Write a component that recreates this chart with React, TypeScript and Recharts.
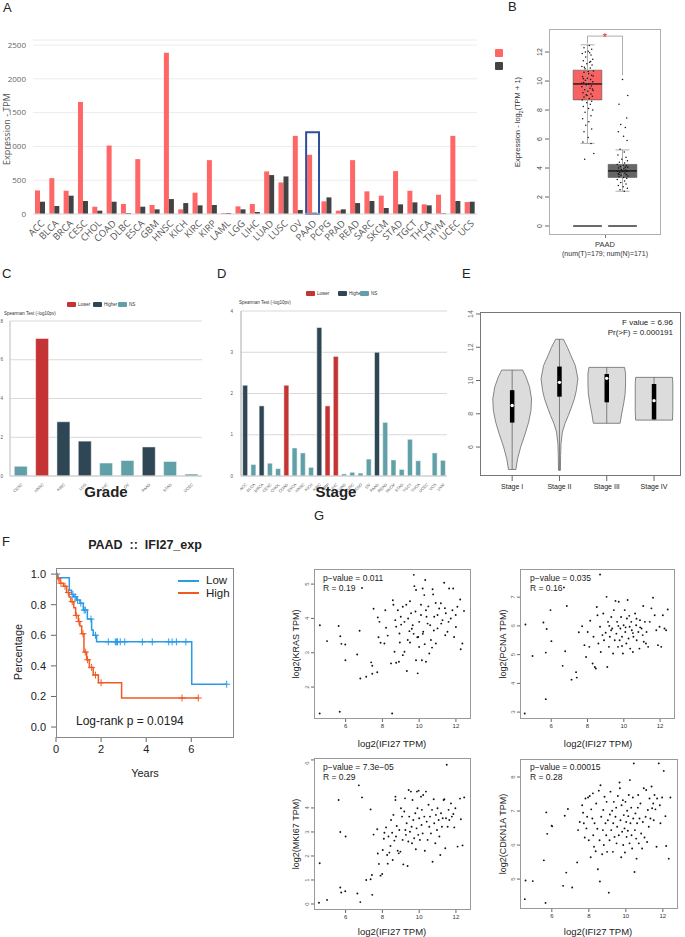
import React from "react"
import {
  BarChart, Bar, XAxis, YAxis, CartesianGrid, Cell,
  ScatterChart, Scatter, ComposedChart, Line, ReferenceArea, ReferenceLine,
} from "recharts"

const SANS = "'Liberation Sans', Arial, sans-serif"
const OPEN = "'Open Sans', sans-serif"

// ---- A: pan-cancer expression (median TPM), tumour vs normal
const CANCERS = ["ACC", "BLCA", "BRCA", "CESC", "CHOL", "COAD", "DLBC", "ESCA", "GBM", "HNSC", "KICH", "KIRC", "KIRP", "LAML", "LGG", "LIHC", "LUAD", "LUSC", "OV", "PAAD", "PCPG", "PRAD", "READ", "SARC", "SKCM", "STAD", "TGCT", "THCA", "THYM", "UCEC", "UCS"]
const TUMOR_TPM = [349, 531, 344, 1658, 108, 1013, 148, 812, 133, 2386, 69, 315, 797, 15, 113, 148, 630, 467, 1156, 876, 187, 49, 797, 335, 271, 635, 344, 143, 285, 1156, 177]
const NORMAL_TPM = [182, 118, 271, 192, 49, 182, 15, 108, 69, 221, 162, 128, 133, 15, 69, 30, 576, 556, 59, 20, 246, 69, 162, 192, 89, 143, 172, 128, 10, 192, 182]
const HIGHLIGHT = "PAAD"
const HIGHLIGHT_TOP = 1210

// ---- B: PAAD box plot, log2(TPM+1)
const BOX_GROUPS = ["Tumor", "Normal"]
const BOX_STATS = [
  { lo: 5.7, q1: 8.7, med: 9.8, q3: 10.75, hi: 12.5 },
  { lo: 2.4, q1: 3.35, med: 3.8, q3: 4.25, hi: 5.25 },
]
const TUMOR_JITTER = [[0.05, 12.45], [-0.1, 12.3], [0.12, 12.2], [0.02, 12.05], [-0.15, 11.9], [0.1, 11.8], [-0.05, 11.65], [0.15, 11.5], [-0.12, 11.4], [0.06, 11.3], [-0.02, 11.2], [0.13, 11.1], [-0.16, 11.0], [0.08, 10.9], [-0.07, 10.85], [0.17, 10.7], [-0.1, 10.6], [0.03, 10.5], [0.12, 10.4], [-0.14, 10.3], [0.0, 10.2], [0.09, 10.1], [-0.06, 10.05], [0.15, 9.95], [-0.11, 9.9], [0.04, 9.8], [-0.03, 9.75], [0.11, 9.65], [-0.16, 9.6], [0.07, 9.5], [-0.08, 9.4], [0.16, 9.35], [0.01, 9.3], [-0.13, 9.2], [0.1, 9.1], [-0.04, 9.05], [0.14, 8.95], [-0.1, 8.9], [0.05, 8.8], [-0.15, 8.7], [0.12, 8.6], [-0.02, 8.5], [0.08, 8.4], [-0.12, 8.25], [0.03, 8.1], [0.15, 8.0], [-0.07, 7.85], [0.1, 7.6], [-0.14, 7.4], [0.04, 7.2], [-0.05, 6.95], [0.12, 6.7], [-0.1, 6.5], [0.02, 6.1], [-0.13, 5.8], [0.1, 5.7], [0.18, 5.0], [-0.08, 4.6], [0.06, 11.95], [-0.09, 10.95], [0.02, 10.65], [-0.12, 10.15], [0.14, 9.45], [-0.01, 9.0], [0.09, 11.35], [-0.06, 12.0], [0.16, 10.35], [-0.17, 9.85]]
const NORMAL_JITTER = [[0.0, 10.1], [0.15, 9.0], [-0.1, 8.4], [0.12, 7.45], [-0.05, 7.0], [0.08, 6.8], [-0.12, 6.5], [0.03, 6.2], [0.13, 5.9], [-0.07, 5.3], [0.05, 5.1], [-0.13, 4.9], [0.1, 4.75], [-0.02, 4.6], [0.14, 4.5], [-0.09, 4.4], [0.06, 4.35], [-0.15, 4.25], [0.02, 4.2], [0.11, 4.15], [-0.06, 4.1], [0.15, 4.05], [-0.11, 4.0], [0.04, 3.95], [-0.03, 3.9], [0.09, 3.85], [-0.14, 3.8], [0.13, 3.78], [0.0, 3.75], [-0.08, 3.7], [0.07, 3.65], [-0.12, 3.6], [0.11, 3.55], [-0.04, 3.5], [0.15, 3.45], [-0.1, 3.4], [0.03, 3.35], [0.12, 3.3], [-0.15, 3.2], [0.06, 3.1], [-0.05, 3.0], [0.1, 2.9], [-0.12, 2.8], [0.02, 2.7], [0.14, 2.6], [-0.07, 2.5], [0.05, 2.4], [-0.02, 3.85], [0.08, 4.05], [-0.1, 3.55]]

// ---- C / D: Spearman tests, -log10 p
const TREND_COLOR: Record<string, string> = { Lower: "#c43434", Higher: "#2f4655", NS: "#61a0a9" }
const GRADE_CANCERS = ["CESC", "HNSC", "KIRC", "LGG", "LIHC", "OV", "PAAD", "STAD", "UCEC"]
const GRADE_LOGP = [0.5, 7.1, 2.8, 1.8, 0.67, 0.8, 1.5, 0.75, 0.1]
const GRADE_TREND = ["NS", "Lower", "Higher", "Higher", "NS", "NS", "Higher", "NS", "NS"]
const STAGE_CANCERS = ["ACC", "BLCA", "BRCA", "CESC", "CHOL", "COAD", "ESCA", "HNSC", "KICH", "KIRC", "KIRP", "LIHC", "LUAD", "LUSC", "MESO", "OV", "PAAD", "READ", "SKCM", "STAD", "TGCT", "THCA", "UCEC", "UCS", "UVM"]
const STAGE_LOGP = [2.2, 0.28, 1.7, 0.31, 0.18, 2.2, 0.68, 0.56, 0.21, 3.6, 1.7, 2.9, 0.05, 0.09, 0.07, 0.41, 3.0, 1.3, 0.39, 0.16, 0.89, 0.37, 0.01, 0.56, 0.38]
const STAGE_TREND = ["Higher", "NS", "Higher", "NS", "NS", "Lower", "NS", "NS", "NS", "Higher", "Lower", "Lower", "NS", "NS", "NS", "NS", "Higher", "NS", "NS", "NS", "NS", "NS", "NS", "NS", "NS"]

// ---- E: violin by stage (value, relative half width)
const STAGES = ["Stage I", "Stage II", "Stage III", "Stage IV"]
const VIOLIN_PROFILES = [
  [[10.63, 0.54], [10.2, 0.72], [9.6, 0.9], [8.9, 1.0], [8.2, 0.97], [7.5, 0.85], [6.8, 0.67], [6.0, 0.44], [5.3, 0.28], [4.65, 0.19]],
  [[12.48, 0.2], [12.0, 0.41], [11.5, 0.59], [10.9, 0.82], [10.1, 0.95], [9.4, 0.87], [8.9, 0.77], [8.3, 0.59], [7.9, 0.46], [7.4, 0.28], [6.9, 0.15], [6.2, 0.08], [5.5, 0.06], [4.6, 0.05]],
  [[10.79, 0.92], [10.4, 0.97], [9.8, 0.97], [9.2, 0.95], [8.6, 0.87], [8.0, 0.77], [7.43, 0.69]],
  [[10.19, 0.95], [9.8, 0.97], [9.0, 0.97], [8.2, 0.97], [7.62, 0.95]],
]
const VIOLIN_BOX = [
  { q1: 7.47, med: 8.5, q3: 9.42 },
  { q1: 9.03, med: 9.89, q3: 10.84 },
  { q1: 8.69, med: 10.13, q3: 10.39 },
  { q1: 7.66, med: 8.79, q3: 9.79 },
]
const VIOLIN_HALF = 0.41

// ---- F: Kaplan-Meier, PAAD by IFI27
const LOW_T = [0, 0.06, 0.59, 0.69, 0.79, 0.91, 1.06, 1.21, 1.39, 1.58, 1.65, 1.8, 6.02, 7.57]
const LOW_S = [1.0, 0.976, 0.895, 0.867, 0.852, 0.83, 0.81, 0.765, 0.706, 0.634, 0.6, 0.557, 0.28, 0.28]
const HIGH_T = [0, 0.06, 0.18, 0.33, 0.47, 0.58, 0.66, 0.79, 0.87, 0.99, 1.06, 1.14, 1.24, 1.36, 1.48, 1.65, 1.88, 2.91, 6.31]
const HIGH_S = [1.0, 0.97, 0.94, 0.92, 0.88, 0.85, 0.82, 0.78, 0.73, 0.69, 0.66, 0.61, 0.49, 0.44, 0.39, 0.34, 0.29, 0.19, 0.19]
const LOW_CENSOR = [0.03, 0.75, 0.85, 0.95, 1.1, 1.25, 1.3, 1.55, 1.75, 2.32, 2.63, 2.68, 2.73, 2.85, 3.05, 3.83, 4.27, 5.0, 5.15, 5.34, 5.76, 7.57]
const HIGH_CENSOR = [0.1, 0.22, 0.4, 0.55, 0.72, 0.9, 1.02, 1.2, 1.3, 1.4, 1.58, 1.75, 2.0, 5.59, 6.31]

// ---- G: correlations with log2(IFI27 TPM)
const KRAS_PTS = [[4.59, 1.23], [4.6, 3.8], [4.99, 3.34], [5.62, 3.78], [5.71, 3.48], [5.77, 3.26], [5.98, 3.24], [5.68, 1.28], [5.99, 2.78], [6.63, 2.95], [6.76, 3.64], [6.89, 4.89], [6.8, 2.25], [7.12, 2.3], [7.39, 2.72], [7.45, 2.62], [7.45, 2.39], [7.72, 2.43], [7.52, 4.28], [7.75, 4.03], [7.84, 3.9], [7.79, 3.45], [7.9, 3.29], [8.11, 3.27], [8.16, 4.24], [8.2, 3.73], [8.29, 3.5], [8.47, 2.69], [8.53, 1.23], [8.57, 4.53], [8.66, 3.03], [8.75, 2.71], [8.9, 2.74], [8.75, 3.76], [8.84, 4.24], [8.93, 3.56], [9.02, 3.82], [9.11, 4.34], [9.2, 3.03], [9.33, 2.47], [9.38, 3.37], [9.47, 3.63], [9.56, 4.15], [9.65, 3.8], [9.74, 4.94], [9.71, 5.27], [9.83, 4.83], [9.92, 2.4], [9.95, 3.46], [10.0, 3.17], [10.1, 4.1], [10.15, 2.78], [10.19, 4.87], [10.28, 4.68], [10.33, 5.12], [10.22, 3.61], [10.37, 4.24], [10.46, 3.85], [10.55, 2.98], [10.64, 3.37], [10.73, 4.85], [10.76, 4.7], [10.82, 4.05], [10.91, 3.27], [11.0, 3.71], [11.09, 4.29], [11.18, 4.44], [11.27, 3.95], [11.36, 5.04], [11.42, 3.51], [11.45, 4.15], [11.54, 3.61], [11.63, 4.87], [11.72, 4.0], [11.81, 4.24], [11.85, 4.87], [11.9, 3.46], [11.99, 4.1], [12.08, 4.34], [12.23, 4.55], [12.26, 3.1], [12.35, 3.27], [12.44, 4.22], [10.37, 2.74], [9.83, 2.78], [9.11, 2.93], [9.2, 3.9], [9.4, 4.0], [9.6, 3.7], [9.8, 4.2], [10.0, 3.9], [10.2, 3.55], [10.4, 4.05], [10.6, 3.8], [10.8, 3.65], [11.0, 4.1], [9.5, 3.3], [9.9, 3.45], [10.3, 3.25], [10.7, 3.15], [9.0, 4.05], [8.7, 3.95], [9.3, 4.4], [10.5, 4.35], [11.2, 3.85], [11.6, 3.9], [8.95, 3.3], [9.7, 3.55], [10.1, 4.4], [10.9, 4.45], [11.4, 4.3], [12.0, 3.75], [8.6, 4.4], [9.5, 4.5]]
const PCNA_PTS = [[4.54, 2.95], [4.58, 6.05], [4.97, 4.95], [5.57, 6.12], [5.75, 5.89], [5.7, 5.07], [5.7, 3.45], [5.96, 6.55], [6.01, 5.47], [6.7, 7.34], [6.77, 5.12], [6.86, 6.69], [6.63, 4.61], [7.12, 4.13], [7.37, 4.39], [7.41, 4.2], [7.52, 5.78], [7.7, 5.99], [7.83, 5.33], [7.92, 4.92], [8.01, 5.79], [8.1, 5.27], [8.15, 6.18], [8.28, 4.69], [8.33, 5.62], [8.4, 4.57], [8.46, 4.52], [8.51, 6.66], [8.55, 6.37], [8.6, 5.39], [8.69, 5.97], [8.73, 5.09], [8.82, 5.68], [8.87, 6.43], [8.91, 5.5], [9.0, 5.76], [9.05, 7.01], [9.09, 4.57], [9.13, 6.14], [9.18, 5.27], [9.23, 5.62], [9.31, 6.31], [9.36, 5.91], [9.41, 5.04], [9.45, 6.55], [9.5, 5.5], [9.54, 6.87], [9.59, 5.73], [9.63, 6.14], [9.68, 5.27], [9.72, 6.84], [9.77, 5.5], [9.81, 5.91], [9.85, 6.31], [9.9, 5.62], [9.95, 5.04], [9.99, 6.02], [10.05, 6.55], [10.08, 5.79], [10.14, 5.39], [10.17, 6.26], [10.21, 6.9], [10.26, 5.56], [10.32, 5.97], [10.35, 5.21], [10.41, 6.14], [10.44, 5.85], [10.5, 5.09], [10.53, 5.62], [10.62, 6.43], [10.68, 6.02], [10.71, 5.5], [10.8, 5.79], [10.86, 5.21], [10.89, 6.2], [10.98, 5.91], [11.04, 5.68], [11.07, 6.69], [11.16, 6.14], [11.22, 5.39], [11.25, 5.79], [11.34, 5.27], [11.43, 6.14], [11.52, 6.61], [11.61, 6.98], [11.7, 6.37], [11.79, 5.85], [11.88, 5.33], [11.97, 5.97], [12.06, 5.27], [12.15, 6.37], [12.24, 5.91], [12.33, 5.85], [12.42, 6.57], [8.69, 7.79], [9.3, 5.85], [9.7, 6.0], [10.1, 5.95], [10.5, 5.75], [10.9, 5.95], [9.9, 5.3], [10.3, 6.35], [11.1, 5.45], [9.2, 6.0], [10.7, 6.25]]
const MKI67_PTS = [[4.59, 1.7], [4.55, 0.05], [4.99, 0.17], [5.62, 4.33], [5.71, 3.0], [6.0, 2.81], [5.71, 0.69], [5.76, 0.48], [5.98, 0.53], [6.72, 4.94], [6.89, 4.44], [6.64, 0.44], [6.8, 0.08], [7.12, 1.0], [7.36, 1.03], [7.43, 1.21], [7.45, 0.38], [7.36, 3.94], [7.52, 2.89], [7.72, 3.11], [7.75, 2.1], [7.81, 1.67], [7.9, 1.18], [7.99, 1.25], [8.02, 2.25], [8.08, 2.72], [8.11, 2.97], [8.2, 3.19], [8.26, 2.04], [8.29, 1.68], [8.33, 2.81], [8.38, 2.14], [8.44, 2.42], [8.47, 3.5], [8.53, 2.97], [8.56, 1.83], [8.6, 3.71], [8.65, 2.64], [8.71, 4.47], [8.71, 4.33], [8.74, 2.81], [8.78, 3.25], [8.83, 2.22], [8.89, 2.11], [8.92, 3.08], [8.98, 2.18], [9.01, 3.99], [9.07, 3.64], [9.1, 2.67], [9.14, 1.65], [9.19, 3.85], [9.23, 4.4], [9.25, 3.08], [9.28, 2.88], [9.32, 3.36], [9.37, 1.58], [9.41, 2.6], [9.43, 4.75], [9.46, 3.64], [9.5, 3.01], [9.55, 4.68], [9.59, 3.22], [9.61, 2.53], [9.64, 4.33], [9.68, 3.5], [9.73, 2.74], [9.79, 3.78], [9.82, 2.28], [9.86, 3.15], [9.88, 4.68], [9.91, 3.99], [9.95, 2.88], [9.97, 4.72], [10.0, 3.57], [10.04, 2.67], [10.1, 4.47], [10.13, 3.29], [10.15, 3.92], [10.19, 2.94], [10.22, 4.54], [10.28, 3.64], [10.31, 2.22], [10.37, 4.68], [10.41, 3.43], [10.46, 2.67], [10.51, 4.13], [10.55, 3.22], [10.59, 3.64], [10.64, 2.94], [10.7, 3.92], [10.73, 1.76], [10.79, 4.36], [10.82, 3.36], [10.88, 2.53], [10.91, 3.71], [10.97, 3.08], [11.0, 3.99], [11.06, 3.5], [11.1, 2.81], [11.15, 2.04], [11.19, 3.78], [11.24, 3.22], [11.28, 3.57], [11.33, 4.33], [11.37, 4.36], [11.42, 2.32], [11.46, 3.57], [11.5, 5.8], [11.55, 3.22], [11.6, 3.92], [11.64, 3.5], [11.73, 4.19], [11.78, 3.64], [11.86, 3.75], [11.91, 3.19], [11.97, 3.99], [12.09, 2.39], [12.22, 4.39], [12.27, 3.53], [12.36, 2.44], [12.45, 4.44]]
const CDKN1A_PTS = [[4.54, 4.41], [4.58, 4.96], [4.97, 4.94], [5.57, 5.55], [5.66, 4.3], [5.7, 6.96], [5.75, 6.33], [5.99, 6.57], [6.02, 6.55], [6.61, 4.8], [6.7, 6.86], [6.78, 5.19], [6.87, 7.06], [7.1, 4.75], [7.37, 5.49], [7.42, 6.44], [7.51, 6.68], [7.64, 7.17], [7.69, 6.95], [7.73, 6.64], [7.78, 6.22], [7.82, 7.37], [7.87, 6.49], [7.91, 6.83], [7.96, 7.4], [8.0, 6.14], [8.05, 7.44], [8.1, 5.64], [8.13, 7.05], [8.19, 6.78], [8.22, 7.52], [8.24, 6.29], [8.28, 5.95], [8.31, 6.64], [8.37, 5.82], [8.4, 7.22], [8.46, 6.48], [8.49, 5.29], [8.54, 7.6], [8.58, 6.14], [8.6, 4.93], [8.63, 7.76], [8.67, 6.83], [8.72, 5.73], [8.76, 6.44], [8.78, 7.03], [8.81, 6.0], [8.85, 7.42], [8.9, 6.64], [8.94, 6.29], [8.96, 7.27], [8.99, 5.8], [9.03, 6.73], [9.08, 4.6], [9.12, 6.14], [9.14, 6.9], [9.17, 7.57], [9.21, 6.44], [9.26, 7.01], [9.3, 5.8], [9.32, 6.64], [9.35, 7.27], [9.39, 6.24], [9.44, 6.83], [9.48, 7.1], [9.5, 6.05], [9.53, 6.54], [9.57, 7.44], [9.62, 6.29], [9.66, 7.84], [9.68, 7.67], [9.71, 6.73], [9.75, 5.64], [9.77, 7.17], [9.8, 6.39], [9.84, 7.32], [9.86, 6.0], [9.89, 6.88], [9.93, 6.49], [9.95, 5.78], [9.98, 7.27], [10.02, 6.68], [10.04, 6.24], [10.07, 7.01], [10.11, 6.42], [10.13, 6.85], [10.16, 7.47], [10.2, 6.05], [10.22, 7.91], [10.25, 6.64], [10.29, 7.1], [10.31, 6.29], [10.34, 5.9], [10.38, 7.4], [10.4, 6.78], [10.43, 8.4], [10.47, 5.21], [10.49, 6.44], [10.52, 6.93], [10.56, 6.19], [10.58, 5.6], [10.61, 6.64], [10.65, 7.1], [10.67, 7.47], [10.7, 6.05], [10.74, 6.78], [10.79, 7.22], [10.83, 6.34], [10.88, 5.9], [10.92, 6.68], [10.97, 7.67], [11.01, 6.22], [11.07, 6.83], [11.1, 7.62], [11.15, 6.09], [11.19, 7.03], [11.24, 6.54], [11.28, 7.37], [11.33, 6.78], [11.39, 7.72], [11.42, 7.08], [11.48, 7.22], [11.51, 6.73], [11.55, 7.47], [11.6, 7.05], [11.66, 5.95], [11.69, 7.37], [11.78, 8.4], [11.84, 7.17], [11.87, 6.64], [11.96, 7.4], [12.05, 8.18], [12.14, 6.85], [12.18, 5.97], [12.32, 5.6], [12.41, 7.4]]

const IFI27_DOMAIN = [4.28, 12.82]

// ---- derived tables
const expData = CANCERS.map((c, i) => ({
  name: c, tumor: TUMOR_TPM[i], normal: NORMAL_TPM[i],
  hl: c === HIGHLIGHT ? [0, HIGHLIGHT_TOP] : null,
}))
const gradeData = GRADE_CANCERS.map((c, i) => ({ name: c, v: GRADE_LOGP[i], trend: GRADE_TREND[i] }))
const stageData = STAGE_CANCERS.map((c, i) => ({ name: c, v: STAGE_LOGP[i], trend: STAGE_TREND[i] }))

const jitterPts = (arr: number[][], g: number) => arr.map(([j, v]) => ({ x: g + j, y: v }))

const violinPoly = (prof: number[][], c: number) => {
  const right = prof.map(([v, w]) => ({ x: c + w * VIOLIN_HALF, y: v }))
  const left = [...prof].reverse().map(([v, w]) => ({ x: c - w * VIOLIN_HALF, y: v }))
  return [...right, ...left, right[0]]
}

const steps = (ts: number[], ss: number[]) => ts.map((t, i) => ({ t, s: ss[i] }))
const survAt = (ts: number[], ss: number[], t: number) => {
  let s = ss[0]
  ts.forEach((tt, i) => { if (tt <= t) s = ss[i] })
  return s
}
const censor = (cs: number[], ts: number[], ss: number[]) => cs.map((t) => ({ t, s: survAt(ts, ss, t) }))

const toXY = (arr: number[][]) => arr.map(([x, y]) => ({ x, y }))

// ---- small render helpers
function Txt({ x, y, s = 10, c = "#222", b = false, a = "start", r = 0, f = SANS, children }: any) {
  const tx = a === "middle" ? "-50%" : a === "end" ? "-100%" : "0%"
  return (
    <div style={{
      position: "absolute", left: x, top: y, fontSize: s, color: c, fontWeight: b ? 700 : 400,
      fontFamily: f, whiteSpace: "nowrap", lineHeight: 1,
      transform: `translate(${tx}, -50%)${r ? ` rotate(${r}deg)` : ""}`,
    }}>
      {children}
    </div>
  )
}

function Frame({ x0, y0, x1, y1, c = "#999" }: any) {
  return <div style={{ position: "absolute", left: x0, top: y0, width: x1 - x0, height: y1 - y0, border: `1px solid ${c}`, boxSizing: "border-box", pointerEvents: "none" }} />
}

function Swatch({ x, y, w, h, c }: any) {
  return <div style={{ position: "absolute", left: x, top: y, width: w, height: h, background: c, borderRadius: 1 }} />
}

function Slant(props: any) {
  const { x, y, payload, fs = 10, fill = "#555", f = OPEN } = props
  return (
    <text x={x + fs * 0.3} y={y} transform={`rotate(-45 ${x + fs * 0.3} ${y})`} textAnchor="end" dy="0.3em" fontSize={fs} fill={fill} fontFamily={f}>
      {payload.value}
    </text>
  )
}

function RTick(props: any) {
  const { x, y, payload, fs = 6, fill = "#333" } = props
  return (
    <text x={x} y={y} transform={`rotate(-90 ${x} ${y})`} textAnchor="middle" fontSize={fs} fill={fill} fontFamily={SANS}>
      {payload.value}
    </text>
  )
}

function TinyTick(props: any) {
  const { x, y, payload } = props
  return <text x={x} y={y} dy="0.35em" textAnchor="end" fontSize={4.5} fill="#555" fontFamily={SANS}>{payload.value}</text>
}

const Empty = () => <g />
const Dot = (props: any) => <circle cx={props.cx} cy={props.cy} r={0.95} fill="#111" />
const SmallDot = (props: any) => <circle cx={props.cx} cy={props.cy} r={0.75} fill="#111" />
const WhiteDot = (props: any) => <circle cx={props.cx} cy={props.cy} r={1.7} fill="#fff" />
const Plus = (props: any) => (
  <path d={`M${props.cx - 3.5},${props.cy}h7M${props.cx},${props.cy - 3.5}v7`} stroke={props.fill} strokeWidth={1} fill="none" />
)

function Pos({ x, y, children }: any) {
  return <div style={{ position: "absolute", left: x, top: y }}>{children}</div>
}

function CorrPanel({ x, y, w, h, pts, yDomain, yTicks }: any) {
  return (
    <Pos x={x} y={y}>
      <ScatterChart width={w} height={h} margin={{ top: 4, right: 4, bottom: 0, left: 0 }}>
        <XAxis type="number" dataKey="x" domain={IFI27_DOMAIN} ticks={[6, 8, 10, 12]} height={16} axisLine={false}
          tickSize={3} tickMargin={2} tick={{ fontSize: 6, fill: "#333", fontFamily: SANS }} allowDataOverflow />
        <YAxis type="number" dataKey="y" domain={yDomain} ticks={yTicks} width={14} axisLine={false}
          tickSize={3} tickMargin={2} tick={(p: any) => <RTick {...p} fs={6} />} allowDataOverflow />
        <Scatter data={toXY(pts)} shape={<Dot />} isAnimationActive={false} />
      </ScatterChart>
    </Pos>
  )
}

export default function App() {
  const lowSteps = steps(LOW_T, LOW_S)
  const highSteps = steps(HIGH_T, HIGH_S)
  return (
    <div style={{ position: "absolute", left: 0, top: 0, width: 685, height: 937, background: "#fff", overflow: "hidden", fontFamily: SANS }}>
      {/* ---------- A ---------- */}
      <Txt x={3} y={7} s={13}>A</Txt>
      <Pos x={0} y={0}>
        <BarChart width={480} height={250} data={expData} margin={{ top: 40, right: 3, bottom: 0, left: 0 }} barGap={0} barCategoryGap={2}>
          <CartesianGrid vertical={false} stroke="#ececec" />
          <XAxis dataKey="name" interval={0} height={36} tickLine={false} axisLine={{ stroke: "#e0e0e0" }} tick={<Slant fs={9.5} fill="#555" />} />
          <XAxis xAxisId="hl" dataKey="name" hide />
          <YAxis domain={[0, 2575]} ticks={[0, 500, 1000, 1500, 2000, 2500]} width={33} axisLine={false} tickLine={false}
            tickMargin={1} tick={{ fontSize: 8, fill: "#666", fontFamily: OPEN }} />
          <Bar dataKey="tumor" fill="#ff6666" isAnimationActive={false} />
          <Bar dataKey="normal" fill="#434343" isAnimationActive={false} />
          <Bar xAxisId="hl" dataKey="hl" barSize={16} fill="none" stroke="#2e4f9c" strokeWidth={2} isAnimationActive={false} />
        </BarChart>
      </Pos>
      <Txt x={6} y={129} s={9} c="#555" a="middle" r={-90} f={OPEN}>Expression - TPM</Txt>
      <Swatch x={495} y={49} w={8} h={8} c="#ff6666" />
      <Swatch x={495} y={62} w={8} h={8} c="#434343" />

      {/* ---------- B ---------- */}
      <Txt x={508} y={6} s={13}>B</Txt>
      <Pos x={480} y={0}>
        <ScatterChart width={205} height={260} margin={{ top: 29, right: 24, bottom: 25, left: 0 }}>
          <XAxis type="number" dataKey="x" domain={[-1.1, 2.1]} hide allowDataOverflow />
          <YAxis type="number" dataKey="y" domain={[-0.62, 13.59]} ticks={[0, 2, 4, 6, 8, 10, 12]} width={69} axisLine={false}
            tickSize={4} tickMargin={3} tick={(p: any) => <RTick {...p} fs={7} fill="#444" />} allowDataOverflow />
          {BOX_STATS.map((b, i) => (
            <ReferenceLine key={`wl${i}`} segment={[{ x: i, y: b.lo }, { x: i, y: b.hi }]} stroke="#999" strokeWidth={0.8} />
          ))}
          {BOX_STATS.map((b, i) => (
            <ReferenceLine key={`ch${i}`} segment={[{ x: i - 0.2, y: b.hi }, { x: i + 0.2, y: b.hi }]} stroke="#999" strokeWidth={0.8} />
          ))}
          {BOX_STATS.map((b, i) => (
            <ReferenceLine key={`cl${i}`} segment={[{ x: i - 0.2, y: b.lo }, { x: i + 0.2, y: b.lo }]} stroke="#999" strokeWidth={0.8} />
          ))}
          {BOX_STATS.map((b, i) => (
            <ReferenceArea key={`bx${i}`} x1={i - 0.41} x2={i + 0.41} y1={b.q1} y2={b.q3} fill={i === 0 ? "#f86262" : "#666666"}
              fillOpacity={1} stroke="#555" strokeWidth={0.6} />
          ))}
          {BOX_STATS.map((b, i) => (
            <ReferenceLine key={`md${i}`} segment={[{ x: i - 0.41, y: b.med }, { x: i + 0.41, y: b.med }]} stroke="#111" strokeWidth={1.3} />
          ))}
          {BOX_GROUPS.map((g, i) => (
            <ReferenceLine key={`z${g}`} segment={[{ x: i - 0.41, y: 0 }, { x: i + 0.41, y: 0 }]} stroke="#444" strokeWidth={1.6} />
          ))}
          <ReferenceLine segment={[{ x: 0, y: 12.6 }, { x: 0, y: 13.1 }]} stroke="#999" strokeWidth={0.8} />
          <ReferenceLine segment={[{ x: 0, y: 13.1 }, { x: 1, y: 13.1 }]} stroke="#999" strokeWidth={0.8} />
          <ReferenceLine segment={[{ x: 1, y: 13.1 }, { x: 1, y: 10.4 }]} stroke="#999" strokeWidth={0.8} />
          <Scatter data={jitterPts(TUMOR_JITTER, 0)} shape={<SmallDot />} isAnimationActive={false} />
          <Scatter data={jitterPts(NORMAL_JITTER, 1)} shape={<SmallDot />} isAnimationActive={false} />
        </ScatterChart>
      </Pos>
      <Frame x0={549} y0={29} x1={661} y1={235} c="#b0b0b0" />
      <Txt x={605} y={37} s={11} c="#ee2222" a="middle">*</Txt>
      <Txt x={519} y={122} s={7.5} c="#333" a="middle" r={-90}>Expression - log<sub style={{ fontSize: 5 }}>2</sub>(TPM + 1)</Txt>
      <div style={{ position: "absolute", left: 605, top: 235, width: 1, height: 3, background: "#777" }} />
      <Txt x={605} y={245} s={7.5} c="#333" a="middle">PAAD</Txt>
      <Txt x={605} y={253} s={7} c="#333" a="middle">(num(T)=179; num(N)=171)</Txt>

      {/* ---------- C ---------- */}
      <Txt x={2} y={273} s={13}>C</Txt>
      <Swatch x={67} y={302} w={9} h={5} c={TREND_COLOR.Lower} />
      <Txt x={78} y={304.5} s={4.5} c="#333">Lower</Txt>
      <Swatch x={93} y={302} w={9} h={5} c={TREND_COLOR.Higher} />
      <Txt x={104} y={304.5} s={4.5} c="#333">Higher</Txt>
      <Swatch x={118} y={302} w={9} h={5} c={TREND_COLOR.NS} />
      <Txt x={129} y={304.5} s={4.5} c="#333">NS</Txt>
      <Txt x={4} y={314} s={4.5} c="#333">Spearman Test (-log10pv)</Txt>
      <Pos x={0} y={300}>
        <BarChart width={210} height={198} data={gradeData} margin={{ top: 21, right: 8, bottom: 0, left: 0 }} barCategoryGap="20%">
          <CartesianGrid vertical={false} stroke="#d9d9d9" />
          <XAxis dataKey="name" interval={0} height={22} tickLine={false} axisLine={{ stroke: "#ccc" }} tick={<Slant fs={4} fill="#555" f={SANS} />} />
          <YAxis domain={[0, 8]} ticks={[0, 1, 2, 3, 4, 5, 6, 7, 8]} width={10} axisLine={{ stroke: "#bbb" }} tickLine={false}
            tickMargin={1} tick={<TinyTick />} />
          <Bar dataKey="v" isAnimationActive={false} stroke="#ffffff" strokeWidth={0.5}>
            {gradeData.map((d, i) => <Cell key={i} fill={TREND_COLOR[d.trend]} />)}
          </Bar>
        </BarChart>
      </Pos>
      <Txt x={106} y={491} s={15} b a="middle">Grade</Txt>

      {/* ---------- D ---------- */}
      <Txt x={217} y={273} s={13}>D</Txt>
      <Swatch x={306} y={291} w={9} h={5} c={TREND_COLOR.Lower} />
      <Txt x={317} y={293.5} s={4.5} c="#333">Lower</Txt>
      <Swatch x={338} y={291} w={9} h={5} c={TREND_COLOR.Higher} />
      <Txt x={349} y={293.5} s={4.5} c="#333">Higher</Txt>
      <Swatch x={360} y={291} w={9} h={5} c={TREND_COLOR.NS} />
      <Txt x={371} y={293.5} s={4.5} c="#333">NS</Txt>
      <Txt x={239} y={303} s={4.5} c="#333">Spearman Test (-log10pv)</Txt>
      <Pos x={215} y={290}>
        <BarChart width={245} height={208} data={stageData} margin={{ top: 21, right: 13, bottom: 0, left: 0 }} barCategoryGap="20%">
          <CartesianGrid vertical={false} stroke="#d9d9d9" />
          <XAxis dataKey="name" interval={0} height={22} tickLine={false} axisLine={{ stroke: "#ccc" }} tick={<Slant fs={4} fill="#555" f={SANS} />} />
          <YAxis domain={[0, 4]} ticks={[0, 1, 2, 3, 4]} width={26} axisLine={{ stroke: "#aaa" }} tickLine={false}
            tickMargin={2} tick={<TinyTick />} />
          <Bar dataKey="v" isAnimationActive={false} stroke="#ffffff" strokeWidth={0.5}>
            {stageData.map((d, i) => <Cell key={i} fill={TREND_COLOR[d.trend]} />)}
          </Bar>
        </BarChart>
      </Pos>
      <Txt x={336} y={491} s={15} b a="middle">Stage</Txt>

      {/* ---------- E ---------- */}
      <Txt x={462} y={273} s={13}>E</Txt>
      <Pos x={455} y={300}>
        <ScatterChart width={230} height={200} margin={{ top: 12, right: 4, bottom: 0, left: 0 }}>
          <XAxis type="number" dataKey="x" domain={[0.32, 4.57]} ticks={[1, 2, 3, 4]} tickFormatter={(v: number) => STAGES[v - 1]}
            height={24} axisLine={false} tickSize={5} tickMargin={3} tick={{ fontSize: 7, fill: "#222", fontFamily: SANS }} allowDataOverflow />
          <YAxis type="number" dataKey="y" domain={[4.26, 14.12]} ticks={[6, 8, 10, 12, 14]} width={25} axisLine={false}
            tickSize={4} tickMargin={3} tick={(p: any) => <RTick {...p} fs={7} />} allowDataOverflow />
          {VIOLIN_PROFILES.map((prof, i) => (
            <Scatter key={`v${i}`} data={violinPoly(prof, i + 1)} shape={<Empty />} line={{ stroke: "#6a6a6a", strokeWidth: 0.8, fill: "#dcdcdc" }}
              lineType="joint" isAnimationActive={false} />
          ))}
          {VIOLIN_PROFILES.map((prof, i) => (
            <Scatter key={`w${i}`} data={[{ x: i + 1, y: prof[0][0] }, { x: i + 1, y: prof[prof.length - 1][0] }]} shape={<Empty />}
              line={{ stroke: "#555", strokeWidth: 0.7 }} lineType="joint" isAnimationActive={false} />
          ))}
          {VIOLIN_BOX.map((b, i) => (
            <Scatter key={`b${i}`} data={[{ x: i + 1, y: b.q1 }, { x: i + 1, y: b.q3 }]} shape={<Empty />}
              line={{ stroke: "#000", strokeWidth: 4.5 }} lineType="joint" isAnimationActive={false} />
          ))}
          <Scatter data={VIOLIN_BOX.map((b, i) => ({ x: i + 1, y: b.med }))} shape={<WhiteDot />} isAnimationActive={false} />
        </ScatterChart>
      </Pos>
      <Frame x0={480} y0={312} x1={681} y1={476} c="#777" />
      <Txt x={673} y={323} s={8} a="end">F value = 6.96</Txt>
      <Txt x={673} y={333} s={8} a="end">Pr(&gt;F) = 0.000191</Txt>

      {/* ---------- F ---------- */}
      <Txt x={2} y={541} s={13}>F</Txt>
      <Txt x={145} y={545} s={12.5} b a="middle">PAAD&nbsp;&nbsp;::&nbsp;&nbsp;IFI27_exp</Txt>
      <Pos x={0} y={540}>
        <ComposedChart width={290} height={225} margin={{ top: 28, right: 57, bottom: 0, left: 0 }}>
          <XAxis type="number" dataKey="t" domain={[0, 7.85]} ticks={[0, 2, 4, 6]} height={28} axisLine={false}
            tickSize={5} tickMargin={3} tick={{ fontSize: 11, fill: "#222", fontFamily: SANS }} allowDataOverflow />
          <YAxis type="number" dataKey="s" domain={[-0.065, 1.04]} ticks={[0, 0.2, 0.4, 0.6, 0.8, 1.0]} tickFormatter={(v: number) => v.toFixed(1)}
            width={56} axisLine={false} tickSize={5} tickMargin={5} tick={{ fontSize: 11, fill: "#222", fontFamily: SANS }} allowDataOverflow />
          <Line data={lowSteps} dataKey="s" type="stepAfter" stroke="#2b9be8" strokeWidth={1.5} dot={false} isAnimationActive={false} />
          <Line data={highSteps} dataKey="s" type="stepAfter" stroke="#f05a22" strokeWidth={1.5} dot={false} isAnimationActive={false} />
          <Scatter data={censor(LOW_CENSOR, LOW_T, LOW_S)} fill="#2b9be8" shape={<Plus />} isAnimationActive={false} />
          <Scatter data={censor(HIGH_CENSOR, HIGH_T, HIGH_S)} fill="#f05a22" shape={<Plus />} isAnimationActive={false} />
        </ComposedChart>
      </Pos>
      <Frame x0={56} y0={568} x1={234} y1={738} c="#888" />
      <div style={{ position: "absolute", left: 178, top: 580, width: 21, height: 1.6, background: "#2b9be8" }} />
      <Txt x={206} y={580.5} s={11.5}>Low</Txt>
      <div style={{ position: "absolute", left: 178, top: 592, width: 21, height: 1.6, background: "#f05a22" }} />
      <Txt x={206} y={593.5} s={11.5}>High</Txt>
      <Txt x={76} y={721} s={12}>Log-rank p = 0.0194</Txt>
      <Txt x={18} y={652} s={11} a="middle" r={-90}>Percentage</Txt>
      <Txt x={145} y={773} s={11} a="middle">Years</Txt>

      {/* ---------- G ---------- */}
      <Txt x={314} y={515} s={13}>G</Txt>
      <CorrPanel x={300} y={565} w={175} h={170} pts={KRAS_PTS} yDomain={[1.07, 5.44]} yTicks={[2, 3, 4, 5]} />
      <CorrPanel x={506} y={565} w={173} h={170} pts={PCNA_PTS} yDomain={[2.76, 7.98]} yTicks={[3, 4, 5, 6, 7]} />
      <CorrPanel x={300} y={754} w={175} h={172} pts={MKI67_PTS} yDomain={[-0.25, 6.08]} yTicks={[0, 1, 2, 3, 4, 5, 6]} />
      <CorrPanel x={506} y={755} w={176} h={170} pts={CDKN1A_PTS} yDomain={[4.12, 8.53]} yTicks={[5, 6, 7, 8]} />
      <Frame x0={314} y0={569} x1={471} y1={719} c="#999" />
      <Frame x0={520} y0={569} x1={675} y1={719} c="#999" />
      <Frame x0={314} y0={758} x1={471} y1={910} c="#999" />
      <Frame x0={520} y0={759} x1={678} y1={909} c="#999" />
      <Txt x={323} y={578} s={8.5}>p−value = 0.011</Txt>
      <Txt x={323} y={588} s={8.5}>R = 0.19</Txt>
      <Txt x={530} y={578} s={8.5}>p−value = 0.035</Txt>
      <Txt x={530} y={588} s={8.5}>R = 0.16</Txt>
      <Txt x={323} y={767} s={8.5}>p−value = 7.3e−05</Txt>
      <Txt x={323} y={777} s={8.5}>R = 0.29</Txt>
      <Txt x={530} y={767} s={8.5}>p−value = 0.00015</Txt>
      <Txt x={530} y={777} s={8.5}>R = 0.28</Txt>
      <Txt x={296} y={644} s={9} a="middle" r={-90}>log2(KRAS TPM)</Txt>
      <Txt x={503} y={644} s={9} a="middle" r={-90}>log2(PCNA TPM)</Txt>
      <Txt x={296} y={834} s={9} a="middle" r={-90}>log2(MKI67 TPM)</Txt>
      <Txt x={503} y={834} s={9} a="middle" r={-90}>log2(CDKN1A TPM)</Txt>
      <Txt x={392} y={744} s={9.5} a="middle">log2(IFI27 TPM)</Txt>
      <Txt x={598} y={744} s={9.5} a="middle">log2(IFI27 TPM)</Txt>
      <Txt x={392} y={932} s={9.5} a="middle">log2(IFI27 TPM)</Txt>
      <Txt x={598} y={932} s={9.5} a="middle">log2(IFI27 TPM)</Txt>
    </div>
  )
}
